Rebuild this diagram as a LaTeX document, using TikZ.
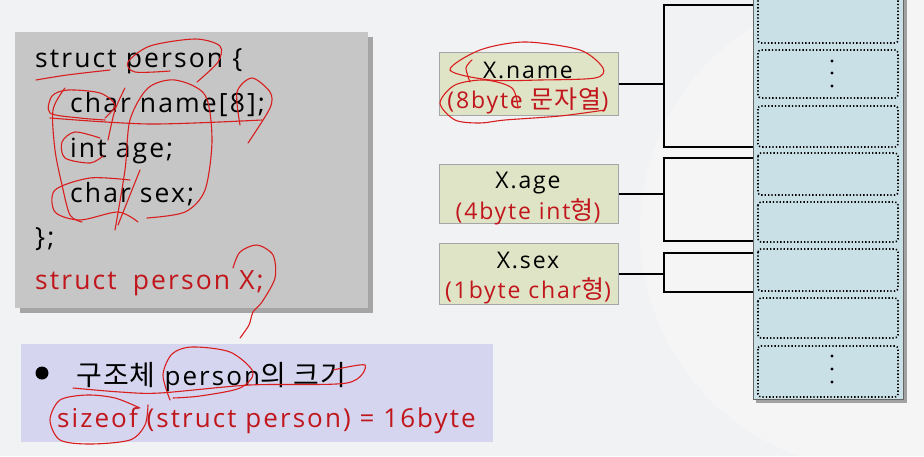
\documentclass[tikz,border=0pt]{standalone}
\usepackage{fontspec}
\setmainfont{Open Sans}[LetterSpace=8]
\newfontfamily\kr{Noto Sans CJK KR}[LetterSpace=4]
\definecolor{bgc}{HTML}{F1F2F4}
\definecolor{codebg}{HTML}{C6C6C6}
\definecolor{purp}{HTML}{D5D5EF}
\definecolor{grn}{HTML}{E0E4C6}
\definecolor{memb}{HTML}{C9E0E7}
\definecolor{redt}{HTML}{C0161C}
\definecolor{ink}{HTML}{D81E1E}
\tikzset{
  codetxt/.style={anchor=base west,inner sep=0pt,font=\fontsize{26.5}{26.5}\selectfont},
  infotxt/.style={anchor=base west,inner sep=0pt,font=\fontsize{26}{26}\selectfont},
  gbox/.style={draw=gray!70,fill=grn,line width=0.8pt,minimum width=179pt,inner sep=0pt},
  gtxt/.style={inner sep=0pt,font=\fontsize{23}{23}\selectfont,anchor=base},
  conn/.style={line width=1.6pt,black},
  cell/.style={draw=black,line width=1.6pt,dash pattern=on 1.3pt off 2.1pt,rounded corners=3pt},
  inkline/.style={draw=ink,line width=1.1pt,line cap=round}
}
\begin{document}
\begin{tikzpicture}[x=1pt,y=-1pt]
\useasboundingbox (0,0) rectangle (924,456);
\fill[bgc] (0,0) rectangle (924,456);
\fill[white!95!gray,opacity=0.5] (880,230) circle (240);

% code box
\fill[black!55,opacity=0.6] (20,37) rectangle (373,313);
\node[fill=codebg,minimum width=353pt,minimum height=276pt,inner sep=0pt,anchor=north west] (code) at (15,32) {};
\node[codetxt] (l1) at (35,67) {struct person \{};
\node[codetxt] (l2) at (70,112) {char name[8];};
\node[codetxt] (l3) at (70,157) {int age;};
\node[codetxt] (l4) at (70,202) {char sex;};
\node[codetxt] (l5) at (35,246) {\};};
\node[codetxt,text=redt] (l6) at (35,289) {struct\hspace{16pt}person X;};

% purple box
\node[fill=purp,minimum width=472pt,minimum height=98pt,inner sep=0pt,anchor=north west] (info) at (21,344) {};
\fill[black] (42,373) circle (6.5);
\node[infotxt] (i1) at (76,385) {{\kr\fontsize{28}{28}\selectfont 구조체} person{\kr\fontsize{28}{28}\selectfont 의 크기}};
\node[infotxt,text=redt] (i2) at (57,427) {sizeof (struct person) = 16byte};

% memory column
\fill[black!50,opacity=0.7] (756,-2) rectangle (907,403);
\node[draw=gray!80!black,fill=memb,line width=0.8pt,minimum width=150pt,minimum height=402pt,inner sep=0pt,anchor=south west] (mem) at (753,400) {};
\foreach \a/\b in {-6/43,50/98,106/147,153/195,202/242,249/291,298/338,346/397}{
  \draw[cell] (758,\a) rectangle (898,\b);
}
\foreach \y in {61,73,86,356,369,382}{\fill (832,\y) circle (1.6);}

% green boxes
\node[gbox,minimum height=63pt,anchor=north west] (bn) at (439,52) {};
\node[gtxt] (tn1) at (528,78) {X.name};
\node[gtxt,text=redt] (tn2) at (528,108) {(8byte {\kr\fontsize{25}{25}\selectfont 문자열})};
\node[gbox,minimum height=59pt,anchor=north west] (ba) at (439,164) {};
\node[gtxt] (ta1) at (528,188) {X.age};
\node[gtxt,text=redt] (ta2) at (528,219) {(4byte int{\kr\fontsize{25}{25}\selectfont 형})};
\node[gbox,minimum height=61pt,anchor=north west] (bs) at (439,243) {};
\node[gtxt] (ts1) at (528,268) {X.sex};
\node[gtxt,text=redt] (ts2) at (528,298) {(1byte char{\kr\fontsize{25}{25}\selectfont 형})};

% connectors
\coordinate (n1) at (753,5); \coordinate (n2) at (753,147);
\coordinate (a1) at (753,158); \coordinate (a2) at (753,241);
\coordinate (s1) at (753,253); \coordinate (s2) at (753,292);
\draw[conn] (bn.east) -- (bn.east -| 664,0);
\draw[conn] (n1) -| (664,0 |- n2) -- (n2);
\draw[conn] (ba.east) -- (ba.east -| 664,0);
\draw[conn] (a1) -| (664,0 |- a2) -- (a2);
\draw[conn] (bs.east) -- (bs.east -| 664,0);
\draw[conn] (s1) -| (664,0 |- s2) -- (s2);

% red ink annotations
\draw[inkline] plot[smooth] coordinates {(36,80) (67,75) (110,70)};
\draw[inkline] plot[smooth] coordinates {(197,82) (218,62) (220,46) (195,39) (150,46) (128,62) (135,72) (170,71)};
\draw[inkline] plot[smooth] coordinates {(50,118) (150,124) (262,120)};
\draw[inkline] plot[smooth] coordinates {(240,125) (237,92) (252,78) (270,92) (270,108) (248,143)};
\draw[inkline] plot[smooth] coordinates {(105,120) (80,118) (50,113) (52,96) (68,90) (100,93) (115,105) (105,118)};
\draw[inkline] plot[smooth] coordinates {(65,88) (53,110) (55,150) (62,185) (70,215) (82,222)};
\draw[inkline] plot[smooth] coordinates {(100,138) (75,132) (62,142) (65,158) (90,163) (103,156)};
\draw[inkline] plot[smooth] coordinates {(130,180) (90,178) (55,190) (55,212) (80,220) (118,212) (138,222)};
\draw[inkline] plot[smooth] coordinates {(115,230) (125,170) (130,120) (148,88) (175,80) (205,95) (212,140) (205,190) (185,212) (147,218)};
\draw[inkline] plot[smooth] coordinates {(108,140) (115,110) (125,88)};
\draw[inkline] plot[smooth] coordinates {(140,170) (130,195) (118,225)};
\draw[inkline] plot[smooth] coordinates {(233,268) (240,252) (257,245) (273,255) (275,278) (262,302) (253,312) (249,325) (240,338)};

\draw[inkline] plot[smooth cycle] coordinates {(450,70) (480,50) (525,42) (580,50) (603,68) (595,78) (540,80) (490,80)};
\draw[inkline] plot[smooth] coordinates {(470,82) (466,68) (472,60)};
\draw[inkline] plot[smooth] coordinates {(518,108) (512,88) (485,80) (455,85) (440,103) (455,120) (480,123) (505,120) (560,116) (605,110)};

\draw[inkline] plot[smooth] coordinates {(170,400) (163,375) (172,354) (192,347) (230,352) (253,372) (240,388) (200,396) (173,398)};
\draw[inkline] plot[smooth] coordinates {(73,388) (120,392) (160,393) (250,385) (347,383) (365,365) (333,370)};
\draw[inkline] plot[smooth] coordinates {(140,408) (115,398) (87,395) (60,400) (50,420) (60,440) (90,444) (130,440) (145,425) (148,405)};
\end{tikzpicture}
\end{document}
